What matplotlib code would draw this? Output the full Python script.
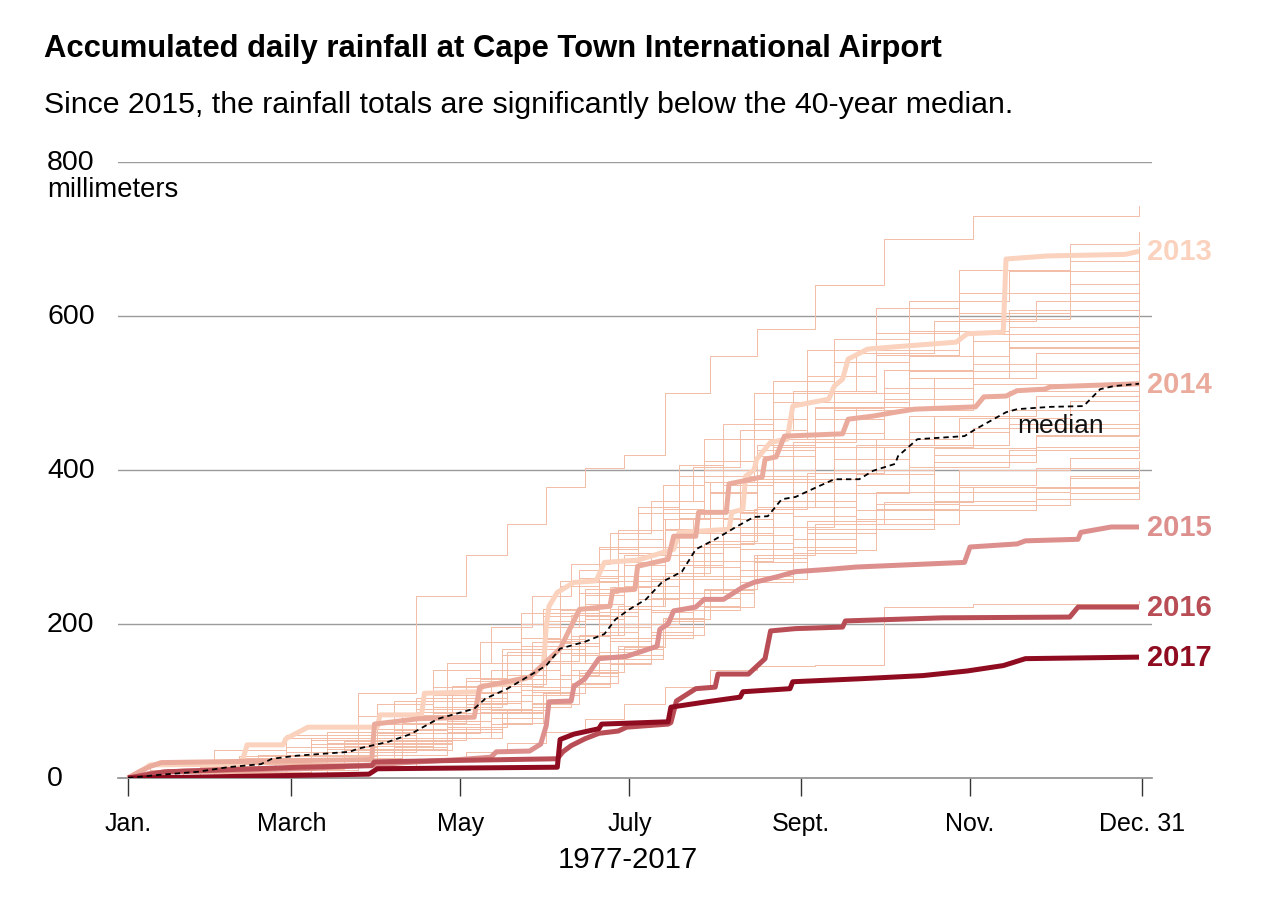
import matplotlib
matplotlib.use('Agg')
import matplotlib.pyplot as plt

plt.rcParams['font.family'] = ['Liberation Sans', 'DejaVu Sans']

# ---- data (day of year, accumulated rainfall in mm) ----
# checkpoint days used by the background years 1977-2012
days_a = [0, 14, 40, 66, 90, 110, 127, 142, 156, 170, 184, 199, 215, 233, 255, 282, 318, 365]
days_b = [0, 20, 47, 72, 96, 115, 131, 146, 160, 174, 189, 204, 221, 240, 263, 291, 328, 365]
days_c = [0, 8, 31, 57, 83, 104, 122, 137, 151, 165, 179, 194, 210, 227, 248, 273, 305, 365]
days_d = [0, 26, 53, 78, 99, 117, 135, 150, 163, 177, 193, 208, 226, 245, 270, 300, 340, 365]

bg_years = [1977, 1978, 1979, 1980, 1981, 1982, 1983, 1984, 1985, 1986, 1987, 1988,
            1989, 1990, 1991, 1992, 1993, 1994, 1995, 1996, 1997, 1998, 1999, 2000,
            2001, 2002, 2003, 2004, 2005, 2006, 2007, 2008, 2009, 2010, 2011, 2012]
bg_days = [days_a, days_b, days_c, days_d] * 9
bg_rain = [
    [0, 4, 18, 30, 52, 70, 98, 140, 175, 215, 262, 318, 380, 440, 500, 548, 586, 609],
    [0, 2, 10, 22, 40, 66, 88, 112, 140, 178, 215, 262, 305, 352, 395, 420, 445, 457],
    [0, 6, 16, 34, 48, 82, 110, 150, 178, 206, 250, 300, 346, 392, 440, 478, 512, 535],
    [0, 8, 14, 26, 44, 60, 78, 108, 132, 160, 196, 240, 280, 318, 350, 372, 392, 401],
    [0, 12, 28, 50, 80, 118, 150, 182, 218, 262, 300, 338, 384, 430, 478, 520, 560, 583],
    [0, 0, 6, 16, 30, 52, 70, 96, 122, 150, 190, 234, 270, 310, 348, 380, 402, 412],
    [0, 10, 24, 40, 60, 86, 112, 134, 168, 210, 256, 300, 348, 400, 448, 492, 528, 548],
    [0, 6, 20, 42, 78, 110, 150, 196, 240, 292, 336, 384, 440, 500, 556, 604, 642, 664],
    [0, 2, 8, 20, 36, 58, 84, 114, 150, 190, 232, 276, 318, 360, 400, 432, 460, 475],
    [0, 8, 24, 46, 70, 100, 140, 176, 212, 248, 290, 338, 388, 436, 482, 520, 552, 566],
    [0, 4, 12, 20, 34, 50, 66, 88, 110, 138, 170, 206, 246, 290, 330, 358, 378, 386],
    [0, 14, 30, 48, 70, 92, 120, 152, 186, 224, 262, 304, 350, 396, 440, 468, 490, 500],
    [0, 6, 22, 52, 96, 140, 176, 214, 256, 298, 344, 392, 440, 488, 540, 580, 608, 622],
    [0, 4, 10, 22, 38, 60, 90, 118, 150, 182, 218, 258, 298, 340, 380, 410, 430, 440],
    [0, 2, 12, 28, 44, 70, 104, 140, 180, 226, 276, 324, 372, 426, 480, 530, 568, 590],
    [0, 10, 18, 30, 46, 66, 86, 110, 136, 168, 204, 244, 290, 334, 372, 400, 416, 423],
    [0, 8, 20, 34, 58, 84, 112, 140, 172, 210, 250, 292, 336, 384, 430, 470, 502, 520],
    [0, 6, 16, 30, 46, 60, 78, 98, 124, 154, 186, 224, 262, 300, 336, 360, 376, 382],
    [0, 18, 36, 56, 80, 104, 130, 160, 196, 238, 280, 322, 370, 418, 466, 506, 538, 555],
    [0, 4, 16, 36, 64, 104, 160, 210, 254, 300, 350, 400, 452, 502, 550, 596, 630, 648],
    [0, 2, 10, 24, 42, 64, 86, 108, 134, 164, 200, 240, 282, 326, 370, 404, 426, 434],
    [0, 6, 14, 24, 36, 52, 70, 92, 118, 148, 182, 218, 254, 292, 324, 348, 362, 369],
    [0, 4, 14, 30, 50, 72, 96, 122, 150, 186, 224, 266, 308, 352, 396, 430, 454, 465],
    [0, 12, 22, 34, 48, 64, 84, 110, 140, 172, 208, 246, 286, 324, 356, 378, 390, 395],
    [0, 10, 26, 44, 64, 92, 128, 172, 214, 256, 300, 344, 392, 440, 488, 528, 558, 574],
    [0, 4, 18, 38, 62, 90, 120, 150, 184, 220, 258, 300, 344, 388, 432, 470, 496, 510],
    [0, 2, 6, 10, 16, 24, 34, 46, 60, 76, 96, 118, 140, 145, 147, 222, 226, 230],
    [0, 6, 12, 22, 36, 52, 72, 96, 124, 154, 186, 222, 258, 296, 330, 354, 370, 375],
    [0, 4, 14, 28, 46, 70, 98, 128, 162, 200, 240, 282, 326, 370, 414, 450, 478, 492],
    [0, 10, 30, 60, 100, 150, 196, 236, 278, 318, 360, 404, 452, 502, 552, 594, 620, 630],
    [0, 6, 24, 52, 110, 236, 290, 330, 378, 402, 420, 500, 548, 583, 640, 700, 730, 743],
    [0, 8, 26, 48, 80, 120, 168, 220, 270, 322, 380, 440, 500, 556, 610, 660, 694, 709],
    [0, 6, 20, 40, 70, 108, 150, 200, 250, 300, 352, 406, 460, 516, 570, 620, 658, 677],
    [0, 8, 20, 34, 52, 74, 100, 128, 160, 196, 234, 274, 316, 360, 400, 428, 444, 450],
    [0, 4, 14, 30, 56, 90, 126, 164, 204, 246, 290, 336, 384, 432, 482, 530, 576, 600],
    [0, 10, 24, 44, 72, 112, 160, 210, 260, 310, 360, 412, 466, 522, 578, 630, 672, 690],
]

days_2013 = [0, 6, 8, 41, 43, 56, 57, 65, 90, 91, 106, 107, 127, 128, 137, 145, 150, 151, 152,
             155, 161, 169, 172, 184, 197, 199, 217, 218, 222, 223, 226, 227, 229, 232, 238,
             240, 253, 255, 258, 260, 267, 277, 299, 303, 316, 317, 332, 360, 365]
rain_2013 = [0, 12, 17, 18, 43, 43, 51, 66, 66, 82, 82, 110, 112, 120, 122, 131, 146, 197, 223,
             241, 254, 256, 280, 283, 297, 319, 323, 345, 349, 392, 400, 414, 423, 436, 440,
             483, 492, 509, 518, 544, 557, 560, 566, 577, 579, 674, 678, 680, 684]

days_2014 = [0, 4, 8, 12, 50, 88, 89, 105, 125, 127, 145, 151, 156, 160, 163, 174, 175, 183,
             184, 195, 197, 205, 206, 216, 217, 229, 230, 234, 237, 258, 260, 269, 277, 284,
             306, 309, 317, 321, 331, 333, 365]
rain_2014 = [0, 8, 15, 20, 22, 24, 70, 77, 79, 118, 131, 151, 168, 197, 219, 223, 243, 245,
             275, 284, 314, 314, 345, 345, 382, 391, 414, 417, 444, 447, 466, 470, 475, 479,
             482, 495, 496, 503, 505, 508, 512]

days_2015 = [0, 8, 20, 62, 89, 100, 120, 131, 133, 145, 149, 151, 152, 160, 161, 165, 170, 180,
             191, 192, 195, 197, 205, 208, 215, 222, 226, 234, 241, 253, 263, 302, 304, 321,
             324, 343, 344, 355, 365]
rain_2015 = [0, 6, 9, 12, 17, 20, 24, 27, 34, 35, 44, 68, 99, 100, 119, 129, 155, 158,
             171, 193, 200, 217, 222, 232, 232, 248, 254, 261, 268, 271, 274, 280, 300, 304,
             308, 310, 319, 326, 326]

days_2016 = [0, 13, 62, 88, 89, 155, 157, 160, 165, 170, 177, 180, 195, 196, 198, 205, 212, 213,
             224, 230, 232, 241, 258, 259, 294, 340, 343, 365]
rain_2016 = [0, 8, 14, 16, 21, 25, 34, 42, 51, 58, 61, 66, 70, 72, 100, 116, 118, 135,
             135, 155, 191, 194, 196, 204, 208, 209, 222, 222]

days_2017 = [0, 22, 87, 90, 155, 156, 161, 170, 171, 195, 196, 209, 221, 222, 239, 240, 265,
             287, 303, 316, 324, 365]
rain_2017 = [0, 1, 5, 12, 14, 50, 57, 64, 70, 73, 92, 99, 105, 112, 116, 125, 129,
             133, 139, 146, 155, 157]

median_days = [0, 11, 25, 36, 48, 52, 61, 80, 83, 94, 102, 112, 125, 129, 137, 145, 151, 156,
               165, 172, 176, 181, 187, 193, 200, 205, 212, 220, 226, 231, 236, 241, 247, 255,
               264, 269, 277, 278, 285, 302, 306, 317, 321, 333, 345, 351, 356, 365]
median_rain = [0, 4, 8, 14, 18, 25, 29, 34, 38, 47, 57, 77, 90, 103, 116, 133, 146, 168,
               177, 187, 206, 219, 232, 255, 268, 297, 310, 327, 339, 340, 362, 365, 375, 388,
               388, 399, 408, 418, 440, 444, 453, 475, 479, 482, 483, 505, 509, 512]

highlights = [
    ('2013', days_2013, rain_2013, '#fbd2bd'),
    ('2014', days_2014, rain_2014, '#ebab9c'),
    ('2015', days_2015, rain_2015, '#dc8f8c'),
    ('2016', days_2016, rain_2016, '#b94d56'),
    ('2017', days_2017, rain_2017, '#8f0c20'),
]

month_ticks = [0, 59, 120, 181, 243, 304, 366]
month_labels = ['Jan.', 'March', 'May', 'July', 'Sept.', 'Nov.', 'Dec. 31']
y_ticks = [0, 200, 400, 600, 800]

# ---- figure ----
W, H = 1262, 904
fig = plt.figure(figsize=(W / 100, H / 100), dpi=100)
ax = fig.add_axes([118 / W, (H - 779) / H, 1034 / W, 616 / H])
ax.set_xlim(-3.6, 369.7)
ax.set_ylim(0, 800)

for v in y_ticks[1:]:
    ax.axhline(v, color='#9b9b9b', lw=1.0, zorder=1)

# older years: thin pale step lines
for yr, d, r in zip(bg_years, bg_days, bg_rain):
    ax.plot(d, r, drawstyle='steps-post', color='#f3bca6', lw=0.7, zorder=2)

for name, d, r, c in highlights:
    ax.plot(d, r, color=c, lw=3.6, solid_capstyle='butt', zorder=3)
    ax.text(367.8, r[-1], name, color=c, fontsize=21, fontweight='bold',
            ha='left', va='center', clip_on=False)

ax.plot(median_days, median_rain, color='black', lw=1.3, dashes=(3, 2.2), zorder=4)
ax.text(321, 458, 'median', fontsize=19, ha='left', va='center', color='#111111')

# axes styling
for s in ['top', 'right', 'left']:
    ax.spines[s].set_visible(False)
ax.spines['bottom'].set_color('#8c8c8c')
ax.spines['bottom'].set_linewidth(1.2)
ax.set_xticks(month_ticks)
ax.set_xticklabels(month_labels, fontsize=18)
ax.tick_params(axis='x', length=13, width=1, color='#333333', pad=11)
ax.set_yticks([])

for v in y_ticks:
    ax.text(-29.2, v, str(v), fontsize=20.5, ha='left', va='center', clip_on=False)
ax.text(-29.2, 765, 'millimeters', fontsize=19.8, ha='left', va='center', clip_on=False)

fig.text(627.5 / W, 1 - 868 / H, '1977-2017', fontsize=21.2, ha='center', va='baseline')
fig.text(44 / W, 1 - 57 / H, 'Accumulated daily rainfall at Cape Town International Airport',
         fontsize=22.3, fontweight='bold', ha='left', va='baseline')
fig.text(44 / W, 1 - 113 / H,
         'Since 2015, the rainfall totals are significantly below the 40-year median.',
         fontsize=21.8, ha='left', va='baseline')

fig.savefig('out.png', dpi=100)
